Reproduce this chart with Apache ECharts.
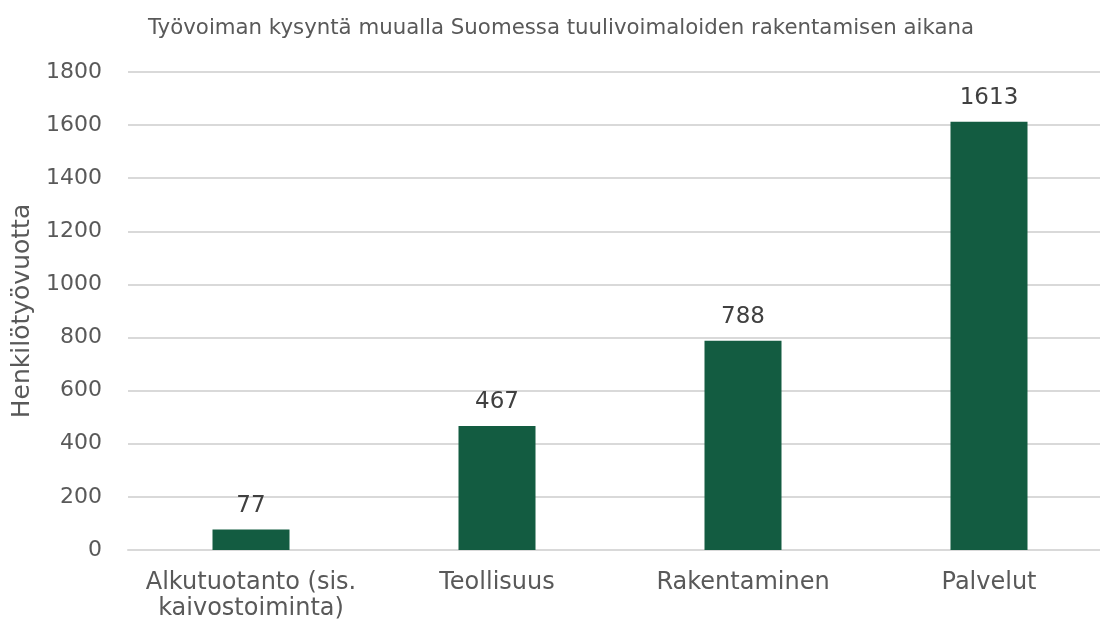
<!DOCTYPE html>
<html>
<head>
<meta charset="utf-8">
<script src="https://cdn.jsdelivr.net/npm/echarts@6/dist/echarts.min.js"></script>
<style>
  html, body { margin: 0; padding: 0; background: #fff; }
  #chart { width: 1100px; height: 621px; }
</style>
</head>
<body>
<div id="chart"></div>
<script>
// Chart data
var categories = ['Alkutuotanto (sis.\nkaivostoiminta)', 'Teollisuus', 'Rakentaminen', 'Palvelut'];
var values = [77, 467, 788, 1613];
var yTicks = [0, 200, 400, 600, 800, 1000, 1200, 1400, 1600, 1800];

var font = '"DejaVu Sans", Verdana, sans-serif';
var chart = echarts.init(document.getElementById('chart'));

var options = {
    animation: false,
    title: {
        text: 'Työvoiman kysyntä muualla Suomessa tuulivoimaloiden rakentamisen aikana',
        left: 556,
        textAlign: 'center',
        top: 13,
        textStyle: { fontFamily: font, fontSize: 21.3, fontWeight: 'normal', color: '#595959' }
    },
    grid: {
        left: 128,
        top: 72,
        width: 984,
        bottom: 71,
        containLabel: false,
        outerBoundsMode: 'none'
    },
    xAxis: {
        type: 'category',
        data: categories,
        axisLine: { lineStyle: { color: '#d9d9d9', width: 2 } },
        axisTick: { show: false },
        axisLabel: {
            fontFamily: font, fontSize: 24, color: '#595959',
            margin: 20, lineHeight: 26, interval: 0
        }
    },
    yAxis: {
        type: 'value',
        min: yTicks[0],
        max: yTicks[yTicks.length - 1],
        interval: 200,
        name: 'Henkilötyövuotta',
        nameLocation: 'middle',
        nameGap: 91,
        nameTextStyle: { fontFamily: font, fontSize: 25, color: '#595959' },
        axisLine: { show: false },
        axisTick: { show: false },
        axisLabel: {
            fontFamily: font, fontSize: 22, color: '#595959', margin: 26,
            formatter: function (v) { return String(v); }
        },
        splitLine: { lineStyle: { color: '#d9d9d9', width: 2 } }
    },
    series: [{
        type: 'bar',
        data: values,
        barWidth: 77,
        itemStyle: { color: '#135c41' },
        label: {
            show: true,
            position: 'top',
            distance: 12,
            fontFamily: font,
            fontSize: 23,
            color: '#404040'
        }
    }]
};

chart.setOption(options);
</script>
</body>
</html>
